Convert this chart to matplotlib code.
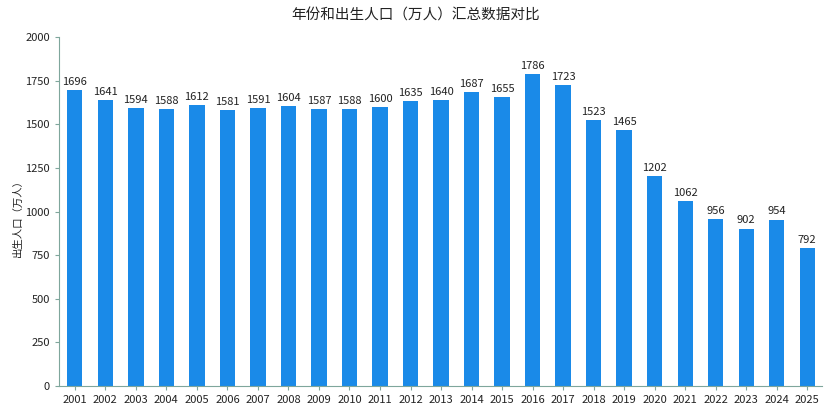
import numpy as np
import matplotlib.pyplot as plt

years = [str(y) for y in range(2001, 2026)]
births = [1696, 1641, 1594, 1588, 1612, 1581, 1591, 1604, 1587, 1588,
          1600, 1635, 1640, 1687, 1655, 1786, 1723, 1523, 1465, 1202,
          1062, 956, 902, 954, 792]
yticks = [0, 250, 500, 750, 1000, 1250, 1500, 1750, 2000]

plt.rcParams['font.family'] = ['Noto Sans CJK SC', 'DejaVu Sans']

fig = plt.figure(figsize=(8.31, 4.16), dpi=100)
ax = fig.add_axes([0.071, 0.072, 0.918, 0.839])

x = np.arange(len(years))
bars = ax.bar(x, births, width=0.5, color='#1a8ae8')
for xi, v in zip(x, births):
    ax.text(xi, v + 18, str(v), ha='center', va='bottom', fontsize=8, color='#222222')

ax.set_xlim(-0.52, len(years) - 0.52)
ax.set_ylim(0, 2000)
ax.set_xticks(x)
ax.set_xticklabels(years)
ax.set_yticks(yticks)
ax.tick_params(labelsize=8, length=3, color='#7fa69c', labelcolor='#222222')
for s in ['top', 'right']:
    ax.spines[s].set_visible(False)
for s in ['left', 'bottom']:
    ax.spines[s].set_color('#7fa69c')
ax.set_ylabel('出生人口（万人）', fontsize=7.5, color='#222222')
ax.yaxis.set_label_coords(-0.048, 0.49)
fig.suptitle('年份和出生人口（万人）汇总数据对比', x=0.5, y=0.98, fontsize=10.5, color='#222222')

fig.savefig('out.png')
